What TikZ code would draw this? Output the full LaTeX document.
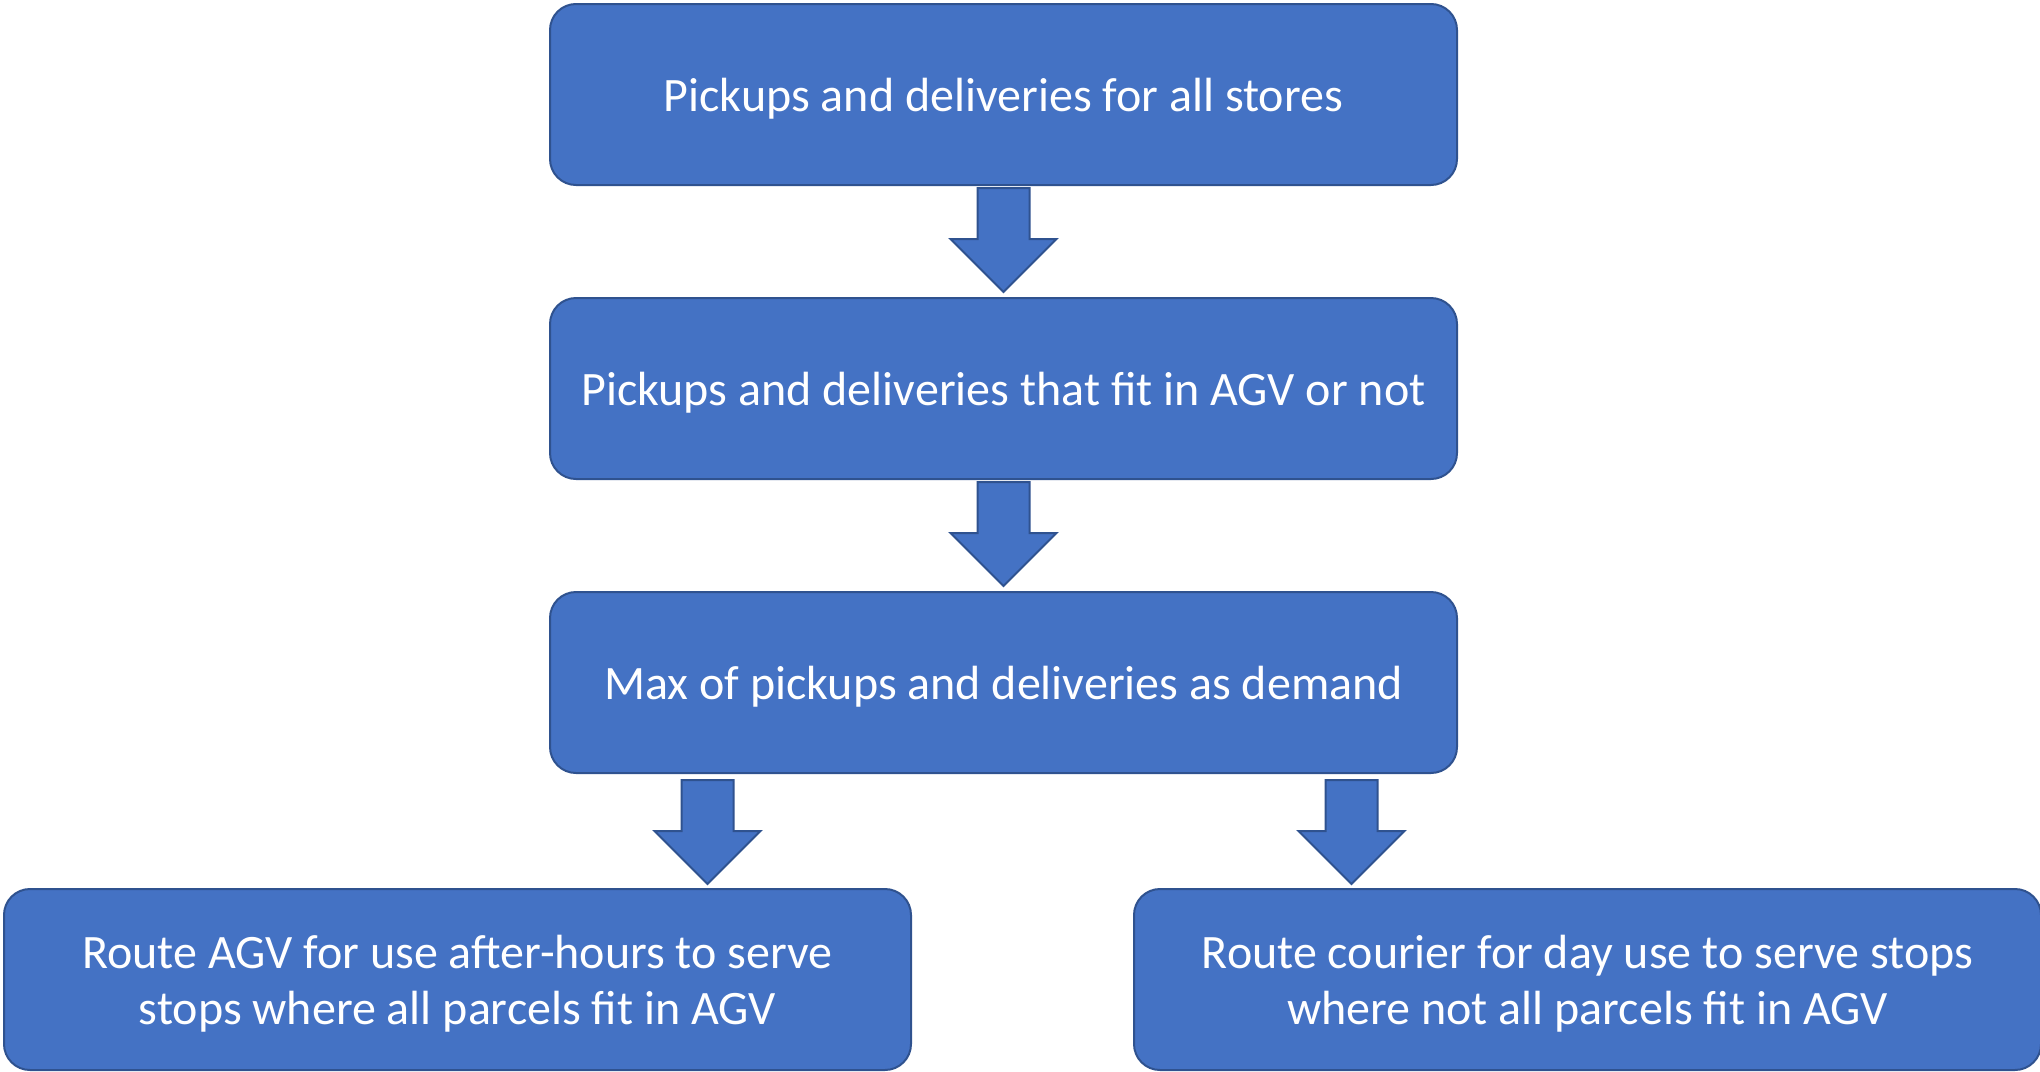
\documentclass[tikz,border=0pt]{standalone}
\usepackage{fontspec}
\setmainfont{Carlito}
\usetikzlibrary{calc}
\definecolor{boxblue}{HTML}{4472C4}
\definecolor{boxline}{HTML}{2F528F}

\begin{document}
\begin{tikzpicture}
  [x=0.5pt,y=-0.5pt,
   every node/.style={draw=boxline,fill=boxblue,rounded corners=13pt,line width=1pt,
     text=white,font=\fontsize{24}{28}\selectfont,align=center,text depth=0pt,
     minimum width=453.5pt,minimum height=90.5pt,inner sep=0pt},
   flow/.style={draw=boxline,fill=boxblue,line width=1pt,line join=miter}]
  \useasboundingbox (0,0) rectangle (2040,1071);

  \node (n1) at (1003.5,94.5)  {Pickups and deliveries for all stores};
  \node (n2) at (1003.5,388.5) {Pickups and deliveries that fit in AGV or not};
  \node (n3) at (1003.5,682.5) {Max of pickups and deliveries as demand};
  \node (n4) at (457.5,979.5)  {Route AGV for use after-hours to serve\\stops where all parcels fit in AGV};
  \node (n5) at (1587.5,979.5) {Route courier for day use to serve stops\\where not all parcels fit in AGV};

  % block arrows: shaft top / tip
  \coordinate (s1) at ($(n1.south)+(0,2)$);
  \coordinate (t1) at ($(n2.north)+(0,-5)$);
  \coordinate (s2) at ($(n2.south)+(0,2)$);
  \coordinate (t2) at ($(n3.north)+(0,-5)$);
  \coordinate (s3) at ($(n3.south)+(-296,6)$);
  \coordinate (t3) at ($(s3 |- n4.north)+(0,-4)$);
  \coordinate (s4) at ($(n3.south)+(348,6)$);
  \coordinate (t4) at ($(s4 |- n5.north)+(0,-4)$);

  \foreach \from/\to in {s1/t1,s2/t2,s3/t3,s4/t4}
    \draw[flow] ($(\from)+(-26,0)$) -- ($(\from)+(26,0)$) -- ($(\to)+(26,-53)$)
      -- ($(\to)+(53,-53)$) -- (\to) -- ($(\to)+(-53,-53)$) -- ($(\to)+(-26,-53)$) -- cycle;

\end{tikzpicture}
\end{document}
